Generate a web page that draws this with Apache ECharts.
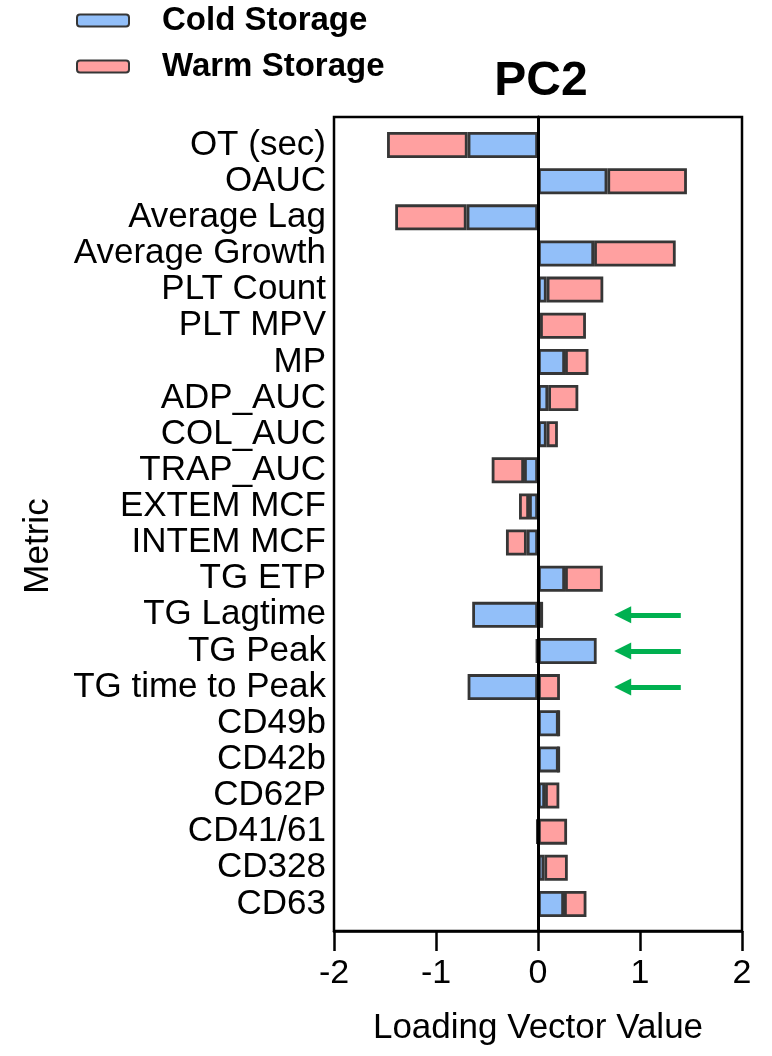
<!DOCTYPE html>
<html>
<head>
<meta charset="utf-8">
<script src="https://cdn.jsdelivr.net/npm/echarts@6/dist/echarts.min.js"></script>
<style>
  html, body { margin: 0; padding: 0; background: #fff; }
  #chart { width: 772px; height: 1056px; }
</style>
</head>
<body>
<div id="chart"></div>
<script>
// ---- data ----
const categories = ['OT (sec)', 'OAUC', 'Average Lag', 'Average Growth', 'PLT Count', 'PLT MPV', 'MP',
  'ADP_AUC', 'COL_AUC', 'TRAP_AUC', 'EXTEM MCF', 'INTEM MCF', 'TG ETP', 'TG Lagtime', 'TG Peak',
  'TG time to Peak', 'CD49b', 'CD42b', 'CD62P', 'CD41/61', 'CD328', 'CD63'];
const coldStorage = [-0.69, 0.68, -0.70, 0.55, 0.085, 0.02, 0.265, 0.10, 0.085, -0.137, -0.088, -0.11,
  0.265, -0.645, 0.575, -0.69, 0.203, 0.203, 0.069, -0.012, 0.062, 0.255];
const warmStorage = [-0.79, 0.78, -0.70, 0.80, 0.555, 0.45, 0.23, 0.295, 0.11, -0.317, -0.098, -0.204,
  0.37, 0.05, -0.02, 0.215, 0, 0, 0.14, 0.285, 0.23, 0.22];
const xTicks = [-2, -1, 0, 1, 2];
const arrowRows = ['TG Lagtime', 'TG Peak', 'TG time to Peak'];
const arrowFrom = 1.40;
const arrowTo = 0.83;

const FONT = '"Liberation Sans", Arial, sans-serif';
const BORDER = '#363636';

const arrowData = arrowRows.map(r => {
  const idx = categories.indexOf(r);
  return [
    { coord: [arrowFrom, idx], symbol: 'none' },
    { coord: [arrowTo, idx], symbol: 'triangle', symbolSize: [17, 17] }
  ];
});

const chart = echarts.init(document.getElementById('chart'), null, { renderer: 'canvas' });
chart.setOption({
  animation: false,
  backgroundColor: '#fff',
  textStyle: { fontFamily: FONT },
  title: {
    text: 'PC2',
    left: 536,
    textAlign: 'center',
    top: 53,
    textStyle: { fontFamily: FONT, fontSize: 48, fontWeight: 'bold', color: '#000' }
  },
  legend: {
    orient: 'vertical',
    left: 76,
    top: 4,
    padding: 0,
    itemWidth: 52,
    itemHeight: 12,
    itemGap: 13,
    data: ['Cold Storage', 'Warm Storage'],
    textStyle: { fontFamily: FONT, fontSize: 33, fontWeight: 'bold', color: '#000', lineHeight: 30, padding: [0, 0, 0, 28] }
  },
  graphic: [{
    type: 'text',
    x: 38,
    y: 546,
    rotation: Math.PI / 2,
    style: { text: 'Metric', font: '35px ' + FONT, fill: '#000', align: 'center', verticalAlign: 'middle' }
  }],
  grid: [
    { left: 334, right: 30, top: 117, bottom: 125, show: true, borderColor: '#000', borderWidth: 2.5, backgroundColor: 'transparent' },
    { left: 334, right: 30, top: 127, height: 795 }
  ],
  xAxis: [
    {
      gridIndex: 0, type: 'value', min: xTicks[0], max: xTicks[xTicks.length - 1], interval: 1,
      axisLine: { show: true, onZero: false, lineStyle: { color: '#000', width: 2.5 } },
      axisTick: { show: true, length: 20, lineStyle: { color: '#000', width: 2.5 } },
      splitLine: { show: false },
      axisLabel: { fontFamily: FONT, fontSize: 34, color: '#000', margin: 26 },
      name: 'Loading Vector Value',
      nameLocation: 'middle',
      nameGap: 80,
      nameTextStyle: { fontFamily: FONT, fontSize: 35, color: '#000' }
    },
    { gridIndex: 1, type: 'value', min: xTicks[0], max: xTicks[xTicks.length - 1], show: false }
  ],
  yAxis: [
    {
      gridIndex: 0, type: 'value', min: -1, max: 1, z: 10,
      axisLine: { show: true, onZero: true, lineStyle: { color: '#000', width: 3 } },
      axisTick: { show: false }, axisLabel: { show: false }, splitLine: { show: false }
    },
    {
      gridIndex: 1, type: 'category', data: categories, inverse: true,
      axisLine: { show: false }, axisTick: { show: false }, splitLine: { show: false },
      axisLabel: { interval: 0, fontFamily: FONT, fontSize: 35, color: '#000', margin: 8 }
    }
  ],
  series: [
    {
      name: 'Cold Storage', type: 'bar', stack: 'total', xAxisIndex: 1, yAxisIndex: 1,
      data: coldStorage, barWidth: 26,
      itemStyle: { color: '#92BFF9', borderColor: BORDER, borderWidth: 2.8 }
    },
    {
      name: 'Warm Storage', type: 'bar', stack: 'total', xAxisIndex: 1, yAxisIndex: 1,
      data: warmStorage, barWidth: 26,
      itemStyle: { color: '#FFA0A0', borderColor: BORDER, borderWidth: 2.8 },
      markLine: {
        silent: true,
        animation: false,
        label: { show: false },
        lineStyle: { color: '#00B050', width: 5, type: 'solid' },
        emphasis: { disabled: true },
        data: arrowData
      }
    }
  ]
});
</script>
</body>
</html>
